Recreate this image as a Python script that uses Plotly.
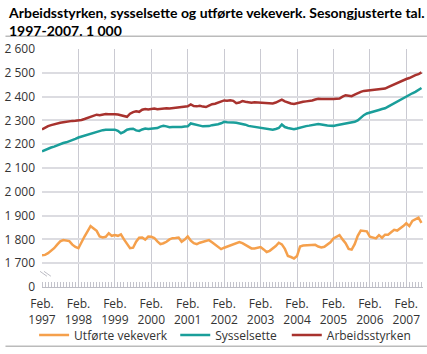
import plotly.graph_objects as go

years = [str(y) for y in range(1997, 2008)]
tick_month = "Feb."

# Monthly values, Feb 1997 - Jul 2007 (1 000 persons / weekly man-years)
arbeidsstyrken = [
    2262, 2270, 2276, 2280, 2284, 2287, 2290, 2292, 2295, 2297, 2298, 2299,
    2300, 2302, 2306, 2310, 2313, 2318, 2324, 2322, 2326, 2327, 2326, 2327,
    2326, 2325, 2322, 2318, 2315, 2328, 2335, 2338, 2336, 2345, 2348, 2346,
    2348, 2350, 2347, 2349, 2350, 2351, 2350, 2352, 2354, 2353, 2356, 2357,
    2359, 2367, 2360, 2359, 2361, 2358, 2356, 2362, 2368, 2370, 2374, 2380,
    2384, 2383, 2385, 2382, 2372, 2375, 2381, 2378, 2375, 2374, 2376, 2375,
    2376, 2374, 2372, 2374, 2371, 2375, 2382, 2387, 2380, 2375, 2371, 2369,
    2373, 2376, 2378, 2380, 2381, 2384, 2388, 2391, 2390, 2389, 2391, 2390,
    2390, 2391, 2392, 2400, 2406, 2404, 2402, 2408, 2415, 2420, 2424, 2425,
    2428, 2429, 2431, 2432, 2433, 2434, 2440, 2446, 2452, 2456, 2462, 2468,
    2474, 2478, 2485, 2490, 2494, 2502,
]

sysselsette = [
    2170, 2176, 2182, 2186, 2190, 2196, 2200, 2205, 2208, 2212, 2217, 2222,
    2228, 2232, 2236, 2240, 2243, 2248, 2253, 2256, 2259, 2261, 2260, 2262,
    2261, 2256, 2246, 2252, 2261, 2264, 2265, 2258, 2256, 2262, 2266, 2264,
    2266, 2267, 2268, 2274, 2277, 2275, 2271, 2272, 2271, 2273, 2272, 2274,
    2275, 2287, 2285, 2280, 2278, 2275, 2274, 2276, 2280, 2281, 2284, 2288,
    2294, 2292, 2290, 2291, 2290, 2288, 2285, 2282, 2277, 2275, 2273, 2272,
    2271, 2269, 2268, 2265, 2261, 2264, 2268, 2283, 2272, 2268, 2265, 2263,
    2266, 2270, 2273, 2276, 2278, 2280, 2283, 2285, 2283, 2280, 2279, 2278,
    2277, 2280, 2282, 2284, 2285, 2288, 2292, 2294, 2300, 2313, 2322, 2329,
    2332, 2336, 2340, 2344, 2348, 2351, 2358, 2365, 2372, 2380, 2389, 2396,
    2403, 2408, 2414, 2420, 2427, 2436,
]

utforte_vekeverk = [
    1733, 1735, 1742, 1752, 1763, 1778, 1792, 1797, 1795, 1793, 1778, 1768,
    1763, 1790, 1812, 1834, 1856, 1846, 1836, 1812, 1808, 1811, 1826, 1815,
    1818, 1815, 1821, 1800, 1780, 1763, 1765, 1790, 1807, 1808, 1799, 1812,
    1811, 1806, 1792, 1780, 1784, 1790, 1800, 1805, 1806, 1808, 1790, 1799,
    1812, 1795, 1784, 1780, 1786, 1790, 1794, 1797, 1788, 1777, 1766, 1759,
    1765, 1770, 1774, 1780, 1786, 1789, 1784, 1777, 1770, 1762, 1762, 1766,
    1768, 1758, 1747, 1752, 1762, 1772, 1786, 1779, 1760, 1730, 1726, 1720,
    1730, 1770, 1774, 1774, 1774, 1775, 1777, 1770, 1766, 1769, 1780, 1788,
    1804, 1810, 1818, 1800, 1784, 1760, 1757, 1780, 1815, 1837, 1836, 1834,
    1811, 1806, 1804, 1818, 1807, 1820, 1820, 1830, 1840, 1837, 1846, 1856,
    1868, 1856, 1878, 1884, 1891, 1869,
]

y_tickvals = [1600, 1700, 1800, 1900, 2000, 2100, 2200, 2300, 2400, 2500, 2600]
y_ticktext = ["0", "1 700", "1 800", "1 900", "2 000", "2 100", "2 200",
              "2 300", "2 400", "2 500", "2 600"]

series = [
    ("Utførte vekeverk", utforte_vekeverk, "#F5A04C"),
    ("Sysselsette", sysselsette, "#1A9E9A"),
    ("Arbeidsstyrken", arbeidsstyrken, "#A8322E"),
]

FONT = "Open Sans"
n = len(arbeidsstyrken)
xs = list(range(n))

W, H = 427, 354
ml, mr, mt, mb = 37, 4, 49, 62
ph = H - mt - mb
pw = W - ml - mr

def py(p):
    return (H - mb - p) / ph

def px(p):
    return (p - ml) / pw

legend_names = ["legend", "legend2", "legend3"]
legend_left = [36, 179, 292]

fig = go.Figure()
for (name, vals, col), lg in zip(series, legend_names):
    fig.add_trace(go.Scatter(x=xs, y=vals, mode="lines", name=name, legend=lg,
                             line=dict(color=col, width=2.5)))

legend_common = dict(orientation="h", xanchor="left", y=py(341), yanchor="middle",
                     font=dict(size=12, color="#333333"), itemwidth=30,
                     bgcolor="rgba(0,0,0,0)")

fig.update_layout(
    width=W, height=H,
    margin=dict(l=ml, r=mr, t=mt, b=mb, pad=0),
    paper_bgcolor="white", plot_bgcolor="white",
    font=dict(family=FONT, size=12, color="#333333"),
    showlegend=True,
    legend=dict(x=px(legend_left[0] - 7), **legend_common),
    legend2=dict(x=px(legend_left[1] - 7), **legend_common),
    legend3=dict(x=px(legend_left[2] - 7), **legend_common),
    xaxis=dict(range=[0, 125.5], tickmode="array",
               tickvals=[12 * k for k in range(len(years))],
               ticktext=[f"{tick_month}<br>{y}" for y in years],
               showgrid=True, gridcolor="#CACAD2", gridwidth=1,
               showline=True, linecolor="#BDBDC5", linewidth=1,
               ticks="", zeroline=False, ticklabelstandoff=6,
               minor=dict(dtick=1, tick0=0, ticks="inside", ticklen=5,
                          tickcolor="#C4C4CC", tickwidth=1, showgrid=False),
               tickfont=dict(size=12, color="#333333"), fixedrange=True),
    yaxis=dict(range=[1600, 2600], tickmode="array", tickvals=y_tickvals,
               ticktext=y_ticktext, showgrid=True, gridcolor="#DCDCE1", gridwidth=2,
               showline=False, zeroline=False, ticks="",
               ticklabelstandoff=6,
               tickfont=dict(size=12, color="#333333"), fixedrange=True),
)

# axis break marker on the value axis
fig.add_shape(type="rect", xref="paper", yref="paper", x0=px(35), x1=px(47),
              y0=py(282), y1=py(275), fillcolor="white", line=dict(width=0), layer="above")
for dx in (0, 4):
    fig.add_shape(type="line", xref="paper", yref="paper",
                  x0=px(35 + dx), y0=py(276), x1=px(42 + dx), y1=py(281),
                  line=dict(color="#BDBDC5", width=1), layer="above")

# separator rules
fig.add_shape(type="line", xref="paper", yref="paper",
              x0=px(0), x1=px(W), y0=py(36), y1=py(36),
              line=dict(color="#BBBBBB", width=1.5))
fig.add_shape(type="line", xref="paper", yref="paper",
              x0=px(0), x1=px(W), y0=py(352.5), y1=py(352.5),
              line=dict(color="#BBBBBB", width=1.5))

fig.add_annotation(text="<b>Arbeidsstyrken, sysselsette og utførte vekeverk. Sesongjusterte tal.<br>1997-2007. 1 000</b>",
                   xref="paper", yref="paper", x=px(1),
                   y=py(1), xanchor="left", yanchor="top", align="left", showarrow=False,
                   font=dict(family="Lato", size=14, color="#000000"))

fig.write_html("out.html")
